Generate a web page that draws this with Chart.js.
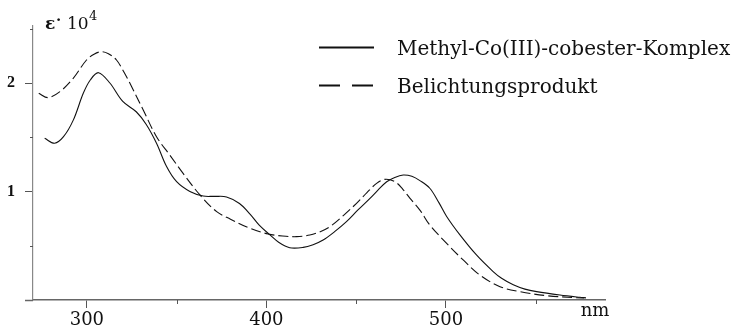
<!DOCTYPE html>
<html>
<head>
<meta charset="utf-8">
<script src="https://cdn.jsdelivr.net/npm/chart.js@4.4.0/dist/chart.umd.min.js"></script>
<style>
  html, body { margin: 0; padding: 0; background: #fff; }
  canvas { display: block; }
</style>
</head>
<body>
<canvas id="spectrum" width="740" height="330"></canvas>
<script>
// Absorption spectra, wavelength in nm, extinction in units of 10^4
const seriesNames = ['Methyl-Co(III)-cobester-Komplex', 'Belichtungsprodukt'];

const nmMethyl = [276.5, 282, 287, 292.5, 298, 302, 306.5, 312.8, 320, 327.5, 333, 338.8, 344.4, 350,
  357.4, 364.8, 371, 377.8, 385, 391, 396, 402, 407, 413, 420.5, 426, 431.6, 438, 444.6, 451, 457.7,
  462, 467, 471.5, 476.2, 481, 485.5, 491, 496, 500.4, 507.8, 517, 526.3, 531, 537.5, 544, 550.5,
  563.5, 574.6, 578];
const epsMethyl = [1.49, 1.445, 1.505, 1.66, 1.905, 2.03, 2.095, 2.0, 1.83, 1.735, 1.62, 1.445, 1.23, 1.09,
  1.0, 0.958, 0.955, 0.95, 0.89, 0.79, 0.69, 0.6, 0.53, 0.482, 0.485, 0.51, 0.553, 0.63, 0.722, 0.83, 0.937,
  1.01, 1.09, 1.13, 1.152, 1.14, 1.1, 1.03, 0.9, 0.77, 0.6, 0.415, 0.262, 0.2, 0.14, 0.1, 0.077,
  0.046, 0.025, 0.02];

const nmPhoto = [273.2, 278.4, 285, 292.4, 299.8, 304, 308.2, 312, 316.5, 320, 324, 331.4, 338.8, 346.2,
  353.6, 363, 372.3, 380, 390.8, 401, 409, 416.8, 424.2, 430, 435.4, 443, 450.2, 456, 461.4, 466,
  471.6, 476, 480, 485.5, 491, 500.4, 509.6, 518.9, 530.1, 541.2, 556.1, 572.8, 577];
const epsPhoto = [1.905, 1.865, 1.92, 2.043, 2.212, 2.265, 2.289, 2.27, 2.212, 2.12, 1.997, 1.751, 1.505, 1.336,
  1.167, 0.968, 0.814, 0.745, 0.661, 0.608, 0.59, 0.584, 0.599, 0.63, 0.676, 0.78, 0.891, 0.99, 1.075, 1.112,
  1.09, 1.02, 0.937, 0.829, 0.691, 0.522, 0.369, 0.23, 0.123, 0.077, 0.04, 0.021, 0.018];

// axis ranges and ticks
const nmMin = 270, nmMax = 588.6, nmStep = 50;
const epsMin = 0, epsMax = 2.53, epsStep = 0.5;

const ink = '#111';
const serif = '"DejaVu Serif", serif';

const toPoints = (xs, ys) => xs.map((x, i) => ({ x, y: ys[i] }));

// extra axis decorations: minor ticks, baseline overhang, unit labels, legend
const decorations = {
  id: 'decorations',
  afterDraw(chart) {
    const { ctx, scales } = chart;
    const xs = scales.x, ys = scales.y;
    const area = chart.chartArea;
    ctx.save();

    // x baseline runs a little past the y axis
    ctx.strokeStyle = '#666';
    ctx.lineWidth = 1.5;
    ctx.beginPath();
    ctx.moveTo(area.left - 8, area.bottom + 0.5);
    ctx.lineTo(area.left, area.bottom + 0.5);
    ctx.stroke();

    // short minor ticks
    ctx.strokeStyle = '#555';
    ctx.lineWidth = 1;
    ys.ticks.forEach(t => {
      if (t.value % 1 !== 0) {
        const py = Math.round(ys.getPixelForValue(t.value)) + 0.5;
        ctx.beginPath();
        ctx.moveTo(area.left - 3, py);
        ctx.lineTo(area.left, py);
        ctx.stroke();
      }
    });
    xs.ticks.forEach(t => {
      if (t.value % 100 !== 0) {
        const px = Math.round(xs.getPixelForValue(t.value)) + 0.5;
        ctx.beginPath();
        ctx.moveTo(px, area.bottom);
        ctx.lineTo(px, area.bottom + 4);
        ctx.stroke();
      }
    });

    // unit labels
    ctx.fillStyle = ink;
    ctx.textBaseline = 'alphabetic';
    ctx.textAlign = 'left';
    ctx.font = 'bold 17px ' + serif;
    ctx.fillText('ε', area.left + 12, area.top + 3);
    ctx.font = 'bold 15px ' + serif;
    ctx.fillText('·', area.left + 23, area.top - 1);
    ctx.font = '17px ' + serif;
    ctx.fillText('10', area.left + 34, area.top + 3);
    ctx.font = '13px ' + serif;
    ctx.fillText('4', area.left + 56, area.top - 6);

    ctx.font = '18px ' + serif;
    ctx.textAlign = 'center';
    ctx.fillText('nm', area.right - 10, area.bottom + 16);

    // legend
    ctx.textAlign = 'left';
    ctx.textBaseline = 'middle';
    chart.data.datasets.forEach((ds, i) => {
      const ly = 47.5 + i * 38;
      ctx.strokeStyle = ink;
      ctx.lineWidth = 2;
      ctx.setLineDash(ds.borderDash && ds.borderDash.length ? [21, 12] : []);
      ctx.beginPath();
      ctx.moveTo(319, ly);
      ctx.lineTo(374, ly);
      ctx.stroke();
      ctx.setLineDash([]);
      ctx.font = '20px ' + serif;
      ctx.fillText(ds.label, 397, ly + 2);
    });
    ctx.restore();
  }
};

new Chart(document.getElementById('spectrum'), {
  type: 'line',
  data: {
    datasets: [
      {
        label: seriesNames[0],
        data: toPoints(nmMethyl, epsMethyl),
        borderColor: ink,
        borderWidth: 1.1,
        tension: 0.35,
        pointRadius: 0,
        fill: false
      },
      {
        label: seriesNames[1],
        data: toPoints(nmPhoto, epsPhoto),
        borderColor: ink,
        borderWidth: 1.1,
        borderDash: [10, 4],
        tension: 0.35,
        pointRadius: 0,
        fill: false
      }
    ]
  },
  options: {
    responsive: false,
    animation: false,
    devicePixelRatio: 1,
    layout: { padding: { top: 25.5, right: 135, bottom: 0, left: 0 } },
    plugins: { legend: { display: false }, tooltip: { enabled: false } },
    scales: {
      x: {
        type: 'linear',
        min: nmMin,
        max: nmMax,
        afterFit(scale) { scale.height = 30; },
        border: { color: '#666', width: 1.5 },
        grid: {
          drawOnChartArea: false,
          tickLength: 8,
          tickColor: c => (c.tick && c.tick.value % 100 === 0) ? '#555' : 'transparent'
        },
        ticks: {
          stepSize: nmStep,
          includeBounds: false,
          maxRotation: 0,
          autoSkip: false,
          padding: 2,
          color: ink,
          font: { family: serif, size: 18 },
          callback: v => (v % 100 === 0 ? String(v) : '')
        }
      },
      y: {
        type: 'linear',
        min: epsMin,
        max: epsMax,
        afterFit(scale) { scale.width = 33; },
        border: { color: '#888', width: 1.2 },
        grid: {
          drawOnChartArea: false,
          tickLength: 8,
          tickColor: c => (c.tick && c.tick.value % 1 === 0 && c.tick.value > 0) ? '#555' : 'transparent'
        },
        ticks: {
          stepSize: epsStep,
          includeBounds: false,
          padding: 10,
          color: ink,
          font: { family: '"Liberation Serif", serif', size: 16, weight: 'bold' },
          callback: v => (v % 1 === 0 && v > 0 ? String(v) : '')
        }
      }
    }
  },
  plugins: [decorations]
});
</script>
</body>
</html>
